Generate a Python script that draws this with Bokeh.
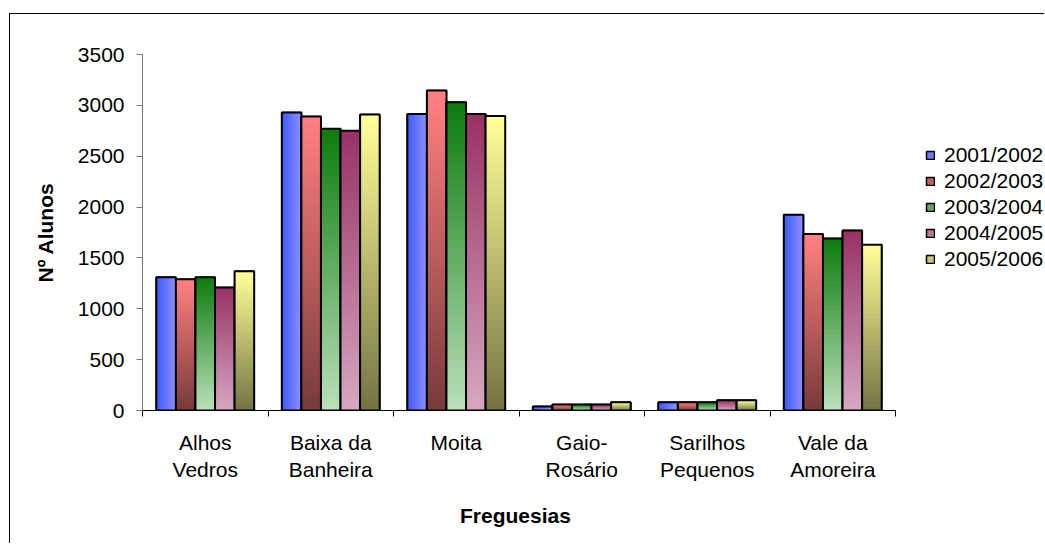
import numpy as np
from bokeh.plotting import figure
from bokeh.models import (ColumnDataSource, FixedTicker, Legend, LegendItem, Range1d, Title)
from bokeh.embed import file_html
from bokeh.resources import INLINE

# ---- data ----
categories = ["Alhos\nVedros", "Baixa da\nBanheira", "Moita", "Gaio-\nRosário",
              "Sarilhos\nPequenos", "Vale da\nAmoreira"]
years = ["2001/2002", "2002/2003", "2003/2004", "2004/2005", "2005/2006"]
v2001 = [1310, 2930, 2915, 40, 80, 1925]
v2002 = [1290, 2890, 3145, 60, 80, 1735]
v2003 = [1310, 2770, 3030, 60, 80, 1690]
v2004 = [1210, 2750, 2915, 60, 100, 1770]
v2005 = [1370, 2910, 2895, 80, 100, 1630]
series = [v2001, v2002, v2003, v2004, v2005]
y_ticks = [0, 500, 1000, 1500, 2000, 2500, 3000, 3500]
y_max = 3500
x_title = "Freguesias"
y_title = "Nº Alunos"

# ---- styles ----
FONT = "Liberation Sans"
# (start colour, end colour, direction)  v: bottom->top, h: left->right
grads = [
    ("#3d5cff", "#8e8eff", "h"),
    ("#7a3b3b", "#ff8080", "v"),
    ("#b8dfb8", "#0e7d0e", "v"),
    ("#d6a6c0", "#993366", "v"),
    ("#757544", "#ffff99", "v"),
]
legend_cols = ["#6a78ff", "#c06060", "#66a866", "#bb7796", "#c8c870"]
NS = 36
bw = 0.156

W, H = 1035, 530
ML, MT, MB = 132, 40, 134
AXIS_PX = 753.0            # width of the category axis in pixels
frame_w = W - ML           # frame runs to the right edge (legend lives inside)
n = len(categories)
x_end = n * frame_w / AXIS_PX


def hex2rgb(h):
    h = h.lstrip("#")
    return np.array([int(h[i:i + 2], 16) for i in (0, 2, 4)], dtype=float)


def lerp(c1, c2, t):
    a, b = hex2rgb(c1), hex2rgb(c2)
    c = a + (b - a) * t
    return "#%02x%02x%02x" % tuple(int(round(x)) for x in c)


p = figure(width=W, height=H, output_backend="svg", toolbar_location=None,
           x_range=Range1d(0, x_end), y_range=Range1d(0, y_max),
           min_border_left=ML, min_border_top=MT, min_border_bottom=MB,
           min_border_right=0,
           styles={"margin-left": "9px", "margin-top": "13px",
                   "border-left": "1px solid #000", "border-top": "1px solid #000"})
p.outline_line_color = None
p.xgrid.visible = False
p.ygrid.visible = False
p.background_fill_color = "white"
p.border_fill_color = "white"

xc = np.arange(n) + 0.5
items = []
for j, vals in enumerate(series):
    vals = np.array(vals, dtype=float)
    x = xc + (j - 2) * bw
    L, R = x - bw / 2, x + bw / 2
    c0, c1, d = grads[j]
    # legend carrier (drawn underneath)
    leg_r = p.quad(left=L, right=R, bottom=0, top=vals, fill_color=legend_cols[j],
                   line_color="black", line_width=1.5)
    l_, r_, b_, t_, cols = [], [], [], [], []
    for i in range(len(vals)):
        for k in range(NS):
            t = k / (NS - 1)
            col = lerp(c0, c1, t)
            if d == "v":
                l_.append(L[i]); r_.append(R[i])
                b_.append(vals[i] * k / NS); t_.append(vals[i])
            else:
                l_.append(L[i] + (R[i] - L[i]) * k / NS); r_.append(R[i])
                b_.append(0); t_.append(vals[i])
            cols.append(col)
    src = ColumnDataSource(dict(l=l_, r=r_, b=b_, t=t_, c=cols))
    p.quad(left="l", right="r", bottom="b", top="t", fill_color="c",
           line_color=None, source=src)
    p.quad(left=L, right=R, bottom=0, top=vals, fill_color=None,
           line_color="black", line_width=2)
    items.append(LegendItem(label=years[j], renderers=[leg_r]))

# ---- axes ----
xa = p.xaxis[0]
xa.bounds = (0, n)
xa.ticker = FixedTicker(ticks=list(xc), minor_ticks=list(range(n + 1)))
xa.major_label_overrides = {float(xc[i]): categories[i] for i in range(n)}
xa.major_tick_line_color = None
xa.major_tick_out = 0
xa.major_tick_in = 0
xa.minor_tick_line_color = "black"
xa.minor_tick_out = 6
xa.minor_tick_in = 0
xa.axis_line_color = "black"
xa.major_label_text_font = FONT
xa.major_label_text_font_size = "21px"
xa.major_label_text_color = "black"
xa.major_label_standoff = 14

# x-axis title, centred under the category axis (not the whole frame)
xt = Title(text=x_title, align="left", offset=AXIS_PX / 2 - 59,
           text_font=FONT, text_font_style="bold", text_font_size="21px",
           text_color="black", standoff=34)
p.add_layout(xt, "below")

ya = p.yaxis[0]
ya.ticker = FixedTicker(ticks=y_ticks)
ya.major_tick_out = 6
ya.major_tick_in = 0
ya.minor_tick_line_color = None
ya.axis_line_color = "#777777"
ya.major_tick_line_color = "#777777"
ya.major_label_text_font = FONT
ya.major_label_text_font_size = "21px"
ya.major_label_text_color = "black"
ya.major_label_standoff = 12
ya.axis_label = y_title
ya.axis_label_text_font = FONT
ya.axis_label_text_font_style = "bold"
ya.axis_label_text_font_size = "21px"
ya.axis_label_text_color = "black"
ya.axis_label_standoff = 18

legend = Legend(items=items, location=(AXIS_PX + 30, 139))
legend.border_line_color = None
legend.background_fill_alpha = 0
legend.label_text_font = FONT
legend.label_text_font_size = "21px"
legend.label_text_color = "black"
legend.glyph_width = 10
legend.glyph_height = 10
legend.label_standoff = 9
legend.label_height = 20
legend.spacing = 2
legend.padding = 0
legend.margin = 0
p.add_layout(legend)

open("out.html", "w").write(file_html(p, INLINE))
